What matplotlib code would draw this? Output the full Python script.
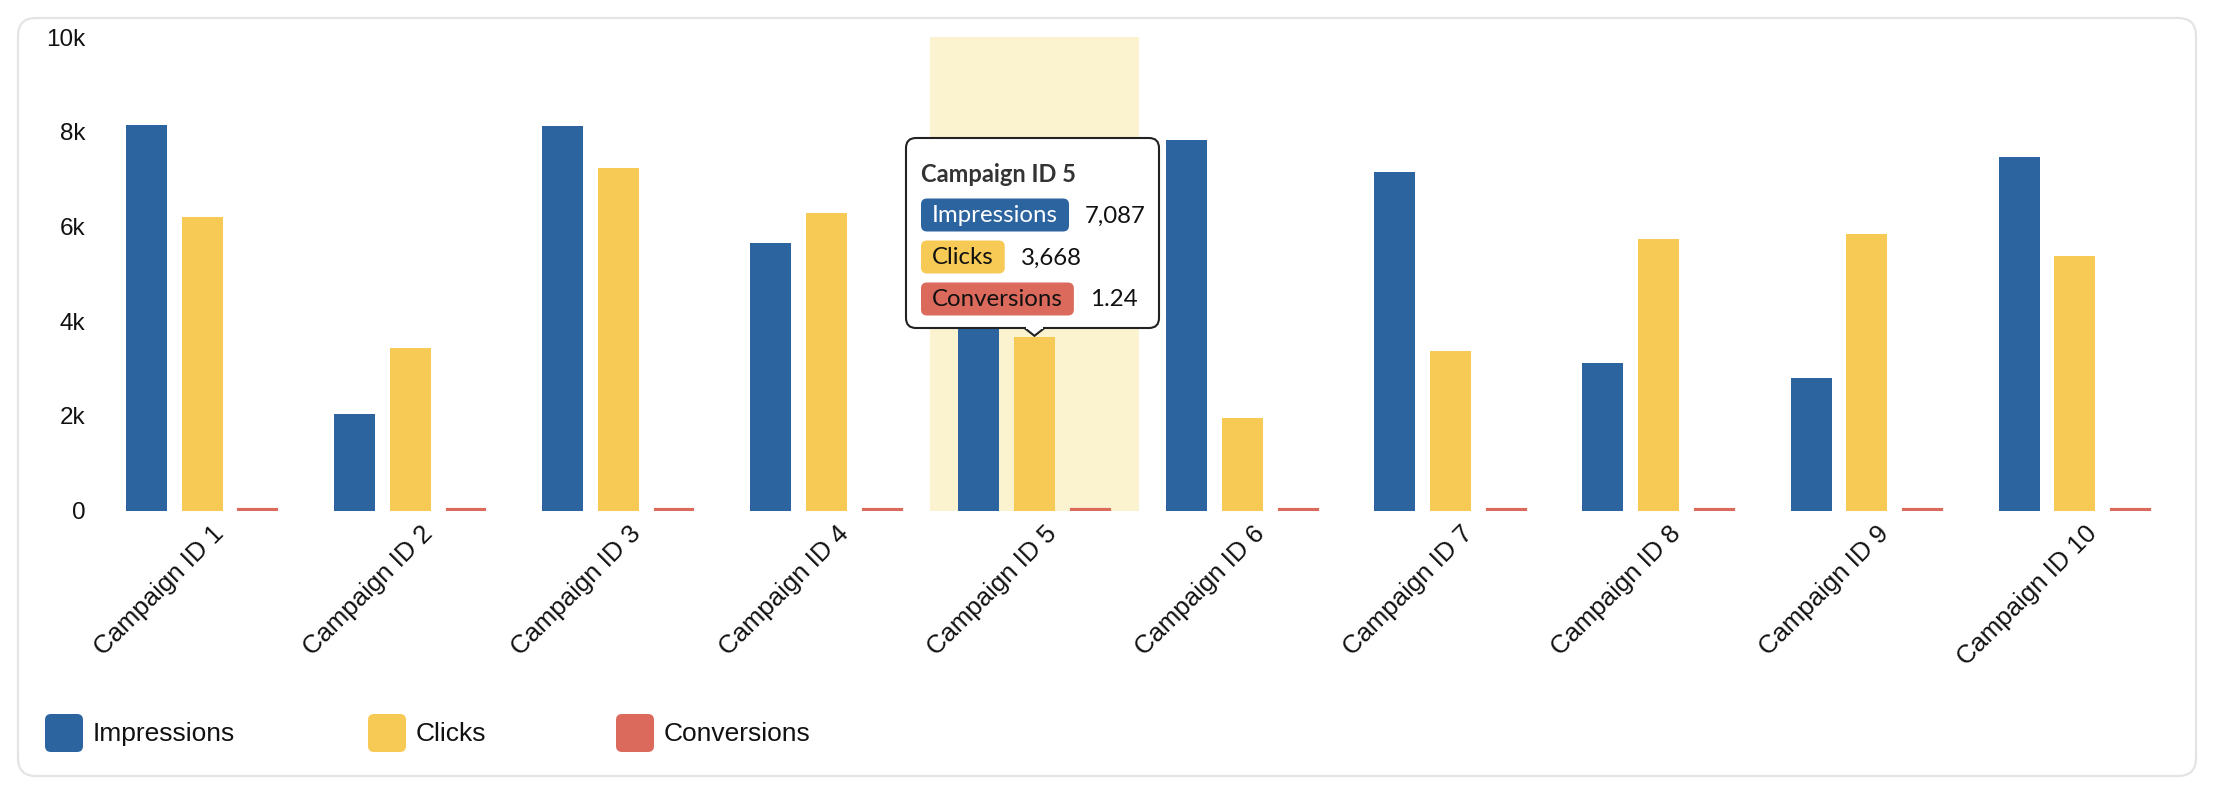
import numpy as np
import matplotlib
matplotlib.use("Agg")
import matplotlib.pyplot as plt
import matplotlib.transforms as mtransforms
from matplotlib.patches import FancyBboxPatch, Polygon, Rectangle
from matplotlib.ticker import FuncFormatter, FixedLocator

# ---------------- data ----------------
categories = [f"Campaign ID {i}" for i in range(1, 11)]
impressions = [8150, 2030, 8130, 5650, 7087, 7830, 7140, 3110, 2790, 7460]
clicks = [6190, 3440, 7240, 6280, 3668, 1960, 3360, 5730, 5850, 5380]
conversions = [1.52, 0.98, 1.31, 1.87, 1.24, 1.05, 1.63, 1.41, 1.18, 1.76]
series_names = ["Impressions", "Clicks", "Conversions"]
y_ticks = [0, 2000, 4000, 6000, 8000, 10000]
highlight_index = 4

colors = ["#2C64A0", "#F6CA55", "#DB6A5C"]
highlight_color = "#FBF3CF"

W, H, DPI = 2216, 792, 100
fig = plt.figure(figsize=(W / DPI, H / DPI), dpi=DPI)
fig.patch.set_facecolor("white")

# main axes in pixel geometry
left_px, right_px, top_px, bottom_px = 98.0, 2179.0, 37.0, 510.5
ax = fig.add_axes([left_px / W, 1 - bottom_px / H,
                   (right_px - left_px) / W, (bottom_px - top_px) / H])

x = np.arange(len(categories))
bw = 0.197
off = 0.268
ax.axvspan(highlight_index - 0.5, highlight_index + 0.5, color=highlight_color,
           zorder=0, lw=0)
ax.bar(x - off, impressions, width=bw, color=colors[0], zorder=2, lw=0)
ax.bar(x, clicks, width=bw, color=colors[1], zorder=2, lw=0)
ax.bar(x + off, conversions, width=bw - 0.02, color=colors[2], zorder=2,
       edgecolor=colors[2], linewidth=3.0)

ax.set_xlim(-0.5, len(categories) - 0.5)
ax.set_ylim(0, 10000)
for s in ax.spines.values():
    s.set_visible(False)
ax.yaxis.set_major_locator(FixedLocator(y_ticks))
ax.yaxis.set_major_formatter(FuncFormatter(lambda v, p: "0" if v == 0 else f"{int(v/1000)}k"))
ax.tick_params(axis="y", length=0, pad=9, labelsize=17.5, labelcolor="#111111")
ax.set_xticks(x)
ax.set_xticklabels(categories, rotation=45, ha="right", rotation_mode="anchor",
                   fontsize=18.5, color="#111111")
ax.tick_params(axis="x", length=0, pad=8)
shift = mtransforms.ScaledTranslation(10 / DPI, 0, fig.dpi_scale_trans)
for lab in ax.get_xticklabels():
    lab.set_transform(lab.get_transform() + shift)
for lab in ax.get_xticklabels() + ax.get_yticklabels():
    lab.set_fontfamily("Liberation Sans")
ax.patch.set_visible(False)

# ---------------- overlay (pixel coordinates) ----------------
ov = fig.add_axes([0, 0, 1, 1], zorder=5)
ov.set_xlim(0, W)
ov.set_ylim(H, 0)
ov.axis("off")
ov.patch.set_visible(False)

# card border
ov.add_patch(FancyBboxPatch((18, 18), 2178, 758,
                            boxstyle="round,pad=0,rounding_size=18",
                            facecolor="none", edgecolor="#E4E4E4", lw=1.6))

# legend
leg_x = [45, 368, 616]
leg_y = 733
sq = 38
for lx, name, c in zip(leg_x, series_names, colors):
    ov.add_patch(FancyBboxPatch((lx, leg_y - sq / 2), sq, sq,
                                boxstyle="round,pad=0,rounding_size=6",
                                facecolor=c, edgecolor="none"))
    ov.text(lx + sq + 10, leg_y + 1, name, fontsize=19, va="center", ha="left",
            family="Liberation Sans", color="#111111")

# tooltip
renderer = fig.canvas.get_renderer()
px, py = ax.transData.transform((highlight_index, clicks[highlight_index]))
py = H - py
tb_x0, tb_y0, tb_w, tb_h = 906, 138, 253, 190
ov.add_patch(FancyBboxPatch((tb_x0, tb_y0), tb_w, tb_h,
                            boxstyle="round,pad=0,rounding_size=10",
                            facecolor="white", edgecolor="#222222", lw=1.5, zorder=6))
tri_half = 10
tri = Polygon([[px - tri_half, tb_y0 + tb_h], [px, py - 1], [px + tri_half, tb_y0 + tb_h]],
              closed=False, facecolor="white", edgecolor="#222222", lw=1.5, zorder=7)
ov.add_patch(tri)
ov.add_patch(Rectangle((px - tri_half + 1.5, tb_y0 + tb_h - 3), 2 * tri_half - 3, 4,
                       facecolor="white", edgecolor="none", zorder=8))

tfont = ["Lato", "DejaVu Sans"]
ov.text(921, 174, f"{categories[highlight_index]}", fontsize=17, fontweight="bold",
        family=tfont, color="#333333", va="center", ha="left", zorder=9)
row_y = [215, 257, 299]
vals = [f"{impressions[highlight_index]:,}", f"{clicks[highlight_index]:,}",
        f"{conversions[highlight_index]:.2f}"]
txt_colors = ["white", "#111111", "#111111"]
pad = 11
pill_h = 33
for ry, name, c, tc, v in zip(row_y, series_names, colors, txt_colors, vals):
    t = ov.text(921 + pad, ry + 1, name, fontsize=17.3, family=tfont, color=tc,
                va="center", ha="left", zorder=10)
    bb = t.get_window_extent(renderer)
    pw = bb.width + 2 * pad
    ov.add_patch(FancyBboxPatch((921, ry - pill_h / 2), pw, pill_h,
                                boxstyle="round,pad=0,rounding_size=6",
                                facecolor=c, edgecolor="none", zorder=9))
    ov.text(921 + pw + 16, ry + 1, v, fontsize=17.3, family=tfont, color="#111111",
            va="center", ha="left", zorder=10)

fig.savefig("out.png", dpi=DPI, facecolor="white")
